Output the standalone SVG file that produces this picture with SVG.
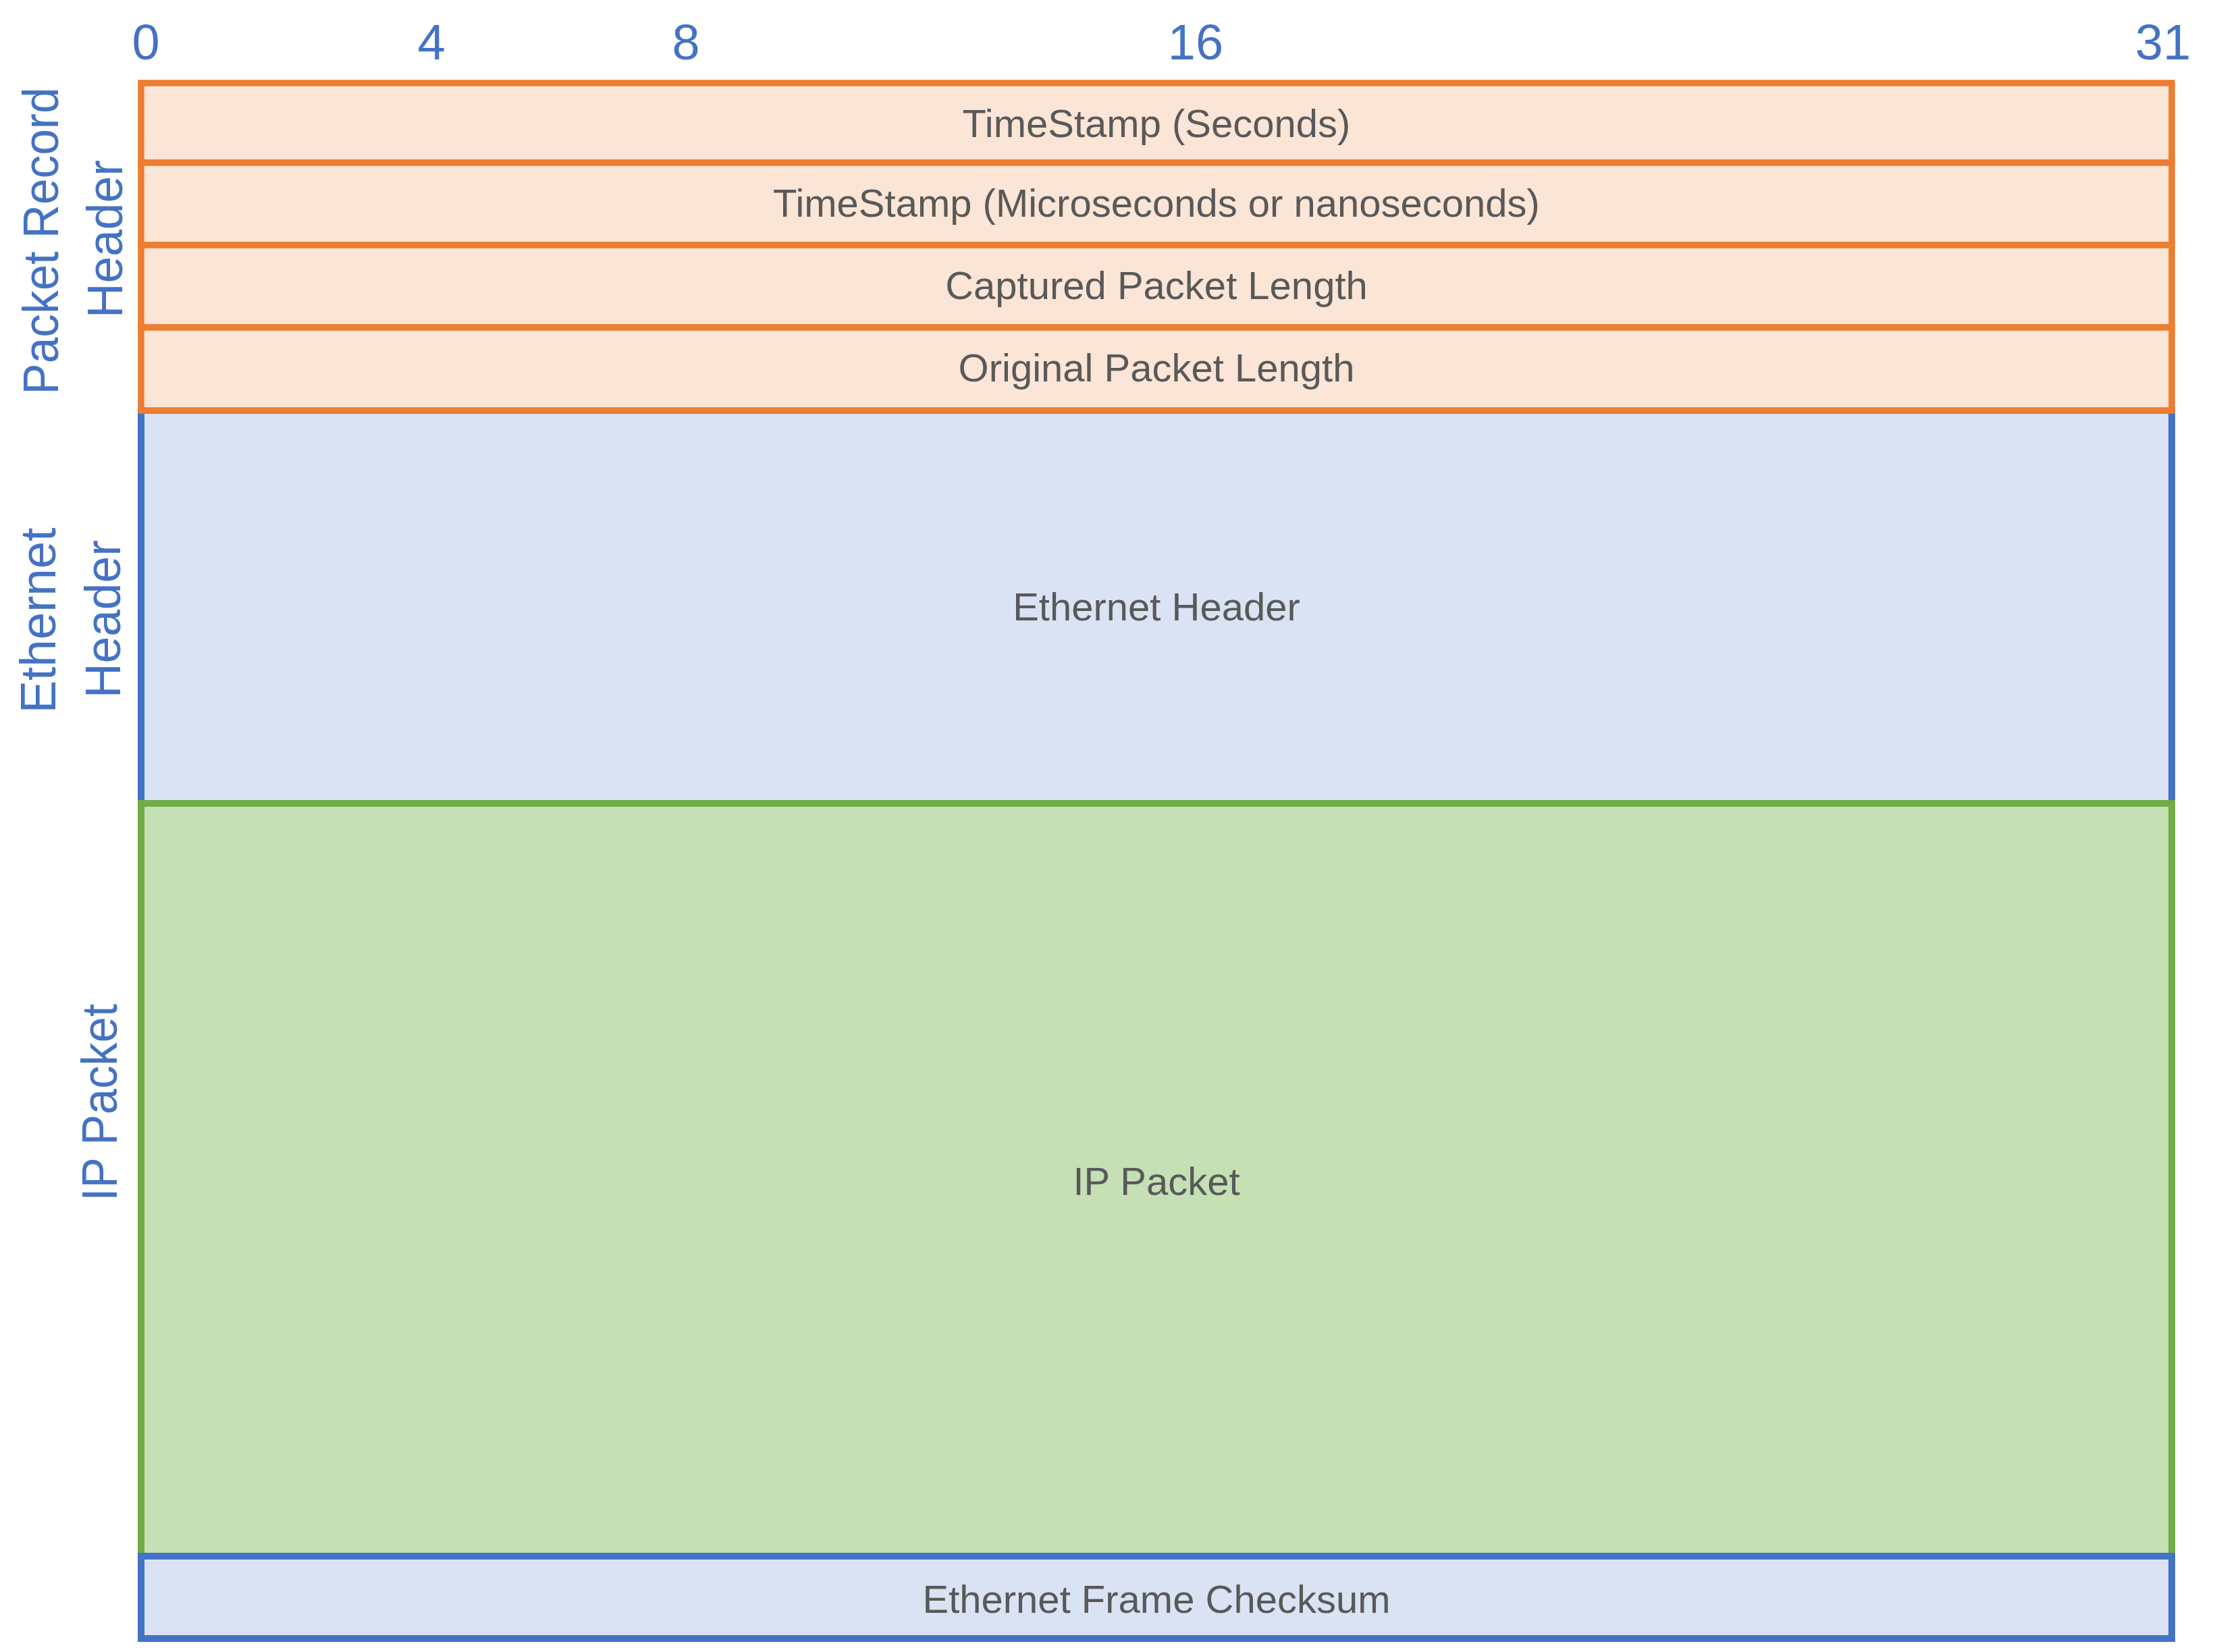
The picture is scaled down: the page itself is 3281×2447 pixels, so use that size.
<svg xmlns="http://www.w3.org/2000/svg" width="3281" height="2447" viewBox="0 0 3281 2447">
<style>
.ax{font-family:"Liberation Sans",Arial,sans-serif;font-size:74px;fill:#4472C4;text-anchor:middle}
.lbl{font-family:"Liberation Sans",Arial,sans-serif;font-size:58px;fill:#595959;text-anchor:middle}
.or{fill:#FBE5D6;stroke:#ED7D31;stroke-width:9.5}
.bl{fill:#DAE3F3;stroke:#4472C4;stroke-width:10}
.gr{fill:#C5E0B4;stroke:#70AD47;stroke-width:10}
</style>
<rect width="3281" height="2447" fill="#FFFFFF"/>
<g id="axis">
<text class="ax" x="216" y="88">0</text>
<text class="ax" x="639" y="88">4</text>
<text class="ax" x="1016" y="88">8</text>
<text class="ax" x="1771" y="88">16</text>
<text class="ax" x="3204" y="88">31</text>
</g>
<g id="side-labels">
<text class="ax" transform="translate(86,357) rotate(-90)" textLength="455" lengthAdjust="spacingAndGlyphs">Packet Record</text>
<text class="ax" transform="translate(181,354) rotate(-90)" textLength="234" lengthAdjust="spacingAndGlyphs">Header</text>
<text class="ax" transform="translate(82,919) rotate(-90)" textLength="275" lengthAdjust="spacingAndGlyphs">Ethernet</text>
<text class="ax" transform="translate(178,917) rotate(-90)" textLength="234" lengthAdjust="spacingAndGlyphs">Header</text>
<text class="ax" transform="translate(173,1633) rotate(-90)" textLength="292" lengthAdjust="spacingAndGlyphs">IP Packet</text>
</g>
<g id="ethernet-header">
<rect class="bl" x="209" y="608" width="3008" height="582"/>
<text class="lbl" x="1713" y="919">Ethernet Header</text>
</g>
<g id="timestamp-seconds">
<rect class="or" x="209" y="123" width="3008" height="118"/>
<text class="lbl" x="1713" y="203">TimeStamp (Seconds)</text>
</g>
<g id="timestamp-micro">
<rect class="or" x="209" y="241" width="3008" height="122"/>
<text class="lbl" x="1713" y="321">TimeStamp (Microseconds or nanoseconds)</text>
</g>
<g id="captured-length">
<rect class="or" x="209" y="363" width="3008" height="122"/>
<text class="lbl" x="1713" y="443">Captured Packet Length</text>
</g>
<g id="original-length">
<rect class="or" x="209" y="485" width="3008" height="123"/>
<text class="lbl" x="1713" y="565">Original Packet Length</text>
</g>
<g id="ip-packet">
<rect class="gr" x="209" y="1190" width="3008" height="1115"/>
<text class="lbl" x="1713" y="1770">IP Packet</text>
</g>
<g id="frame-checksum">
<rect class="bl" x="209" y="2305" width="3008" height="122"/>
<text class="lbl" x="1713" y="2389">Ethernet Frame Checksum</text>
</g>
</svg>
